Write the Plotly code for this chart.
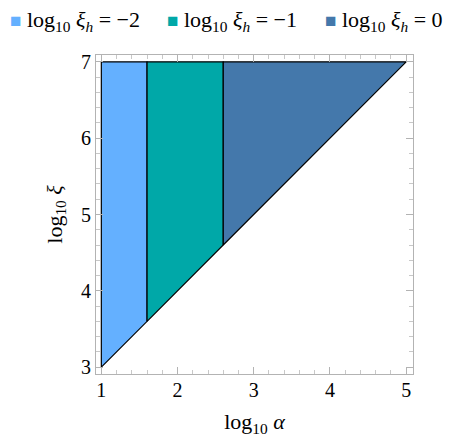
import plotly.graph_objects as go

# regions for each log10 xi_h value
xi_h = [-2, -1, 0]
x_left = [1.0, 1.6, 2.6]
x_right = [1.6, 2.6, 5.0]
y_low_left = [3.0, 3.6, 4.6]
y_low_right = [3.6, 4.6, 7.0]
y_top = 7.0
colors = ['#64B0FF', '#00A8A8', '#4478AB']

fig = go.Figure()

for i in range(len(xi_h)):
    xs = [x_left[i], x_left[i], x_right[i], x_right[i], x_left[i]]
    ys = [y_low_left[i], y_top, y_top, y_low_right[i], y_low_left[i]]
    label = 'log<sub>10</sub> <i>ξ<sub>h</sub></i> = ' + str(xi_h[i]).replace('-', '\u2212')
    fig.add_trace(go.Scatter(x=xs, y=ys, mode='lines', fill='toself', name=label,
                             fillcolor=colors[i], line=dict(color='black', width=1.2),
                             showlegend=False, hoverinfo='skip'))

# legend row drawn as text on top
legend_x = [-0.277, 0.218, 0.716]
for i in range(len(xi_h)):
    label = 'log<sub>10</sub> <i>ξ<sub>h</sub></i> = ' + str(xi_h[i]).replace('-', '\u2212')
    fig.add_annotation(x=legend_x[i], y=1.108, xref='paper', yref='paper',
                       xanchor='left', yanchor='middle', showarrow=False,
                       text='<span style="color:%s;font-size:19px">\u25A0</span> %s' % (colors[i], label),
                       font=dict(size=22))

axis_common = dict(
    showgrid=False, zeroline=False, showline=True, linecolor='#b3b3b3', linewidth=1,
    mirror='allticks', ticks='inside', ticklen=7, tickcolor='#b3b3b3', tickwidth=1,
    dtick=1, tickfont=dict(size=20, color='black'),
    minor=dict(ticks='inside', ticklen=4, tickcolor='#c8c8c8', dtick=0.2, showgrid=False),
)

fig.update_xaxes(range=[0.93, 5.09], tick0=1, ticklabelstandoff=-2,
                 title=dict(text='log<sub>10</sub> <i>α</i>', font=dict(size=22), standoff=13),
                 **axis_common)
fig.update_yaxes(range=[2.91, 7.09], tick0=3,
                 title=dict(text='log<sub>10</sub> <i>ξ</i>', font=dict(size=22), standoff=12),
                 **axis_common)

fig.update_layout(
    width=449, height=432,
    margin=dict(l=88, r=44, t=47, b=66, autoexpand=False),
    plot_bgcolor='white', paper_bgcolor='white',
    font=dict(family='Liberation Serif', color='black'),
    showlegend=False,
)

fig.write_html("out.html")
